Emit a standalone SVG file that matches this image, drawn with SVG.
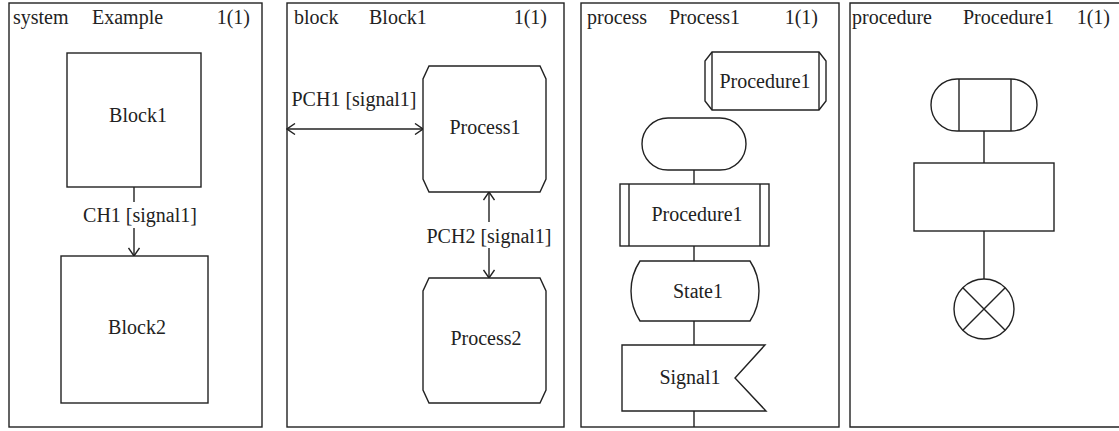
<svg xmlns="http://www.w3.org/2000/svg" width="1119" height="431" viewBox="0 0 1119 431">
<style>
  .f{fill:none;stroke:#222;stroke-width:1.4}
  .s{fill:#fff;stroke:#222;stroke-width:1.4}
  .l{fill:none;stroke:#222;stroke-width:1.4}
  .t{font-family:'Liberation Serif','DejaVu Serif','Noto Serif',serif;font-size:20px;fill:#222}
  .c{text-anchor:middle}
  .e{text-anchor:end}
</style>
<defs>
  <marker id="arr" viewBox="0 0 10 12" refX="9" refY="6" markerWidth="10" markerHeight="12" markerUnits="userSpaceOnUse" orient="auto-start-reverse">
    <path d="M1,0.5 L9,6 L1,11.5" fill="none" stroke="#222" stroke-width="1.4"/>
  </marker>
</defs>
<rect width="1119" height="431" fill="#fff"/>
<g class="t">

<g id="frame-system">
  <rect class="f" x="9" y="3" width="253" height="424"/>
  <text x="13" y="24">system</text>
  <text x="92" y="24">Example</text>
  <text class="e" x="250" y="24">1(1)</text>
</g>
<g id="frame-block">
  <rect class="f" x="287" y="3" width="277" height="424"/>
  <text x="294" y="24">block</text>
  <text x="369" y="24">Block1</text>
  <text class="e" x="547" y="24">1(1)</text>
</g>
<g id="frame-process">
  <rect class="f" x="581" y="3" width="258" height="424"/>
  <text x="587" y="24">process</text>
  <text x="669" y="24">Process1</text>
  <text class="e" x="818" y="24">1(1)</text>
</g>
<g id="frame-procedure">
  <path class="f" d="M1125,3 L850,3 L850,427 L1125,427"/>
  <text x="852" y="24">procedure</text>
  <text x="963" y="24">Procedure1</text>
  <text class="e" x="1110" y="24">1(1)</text>
</g>

<g id="connectors">
  <path class="l" d="M134,187 V202"/>
  <path class="l" d="M134,228 V256" marker-end="url(#arr)"/>
  <text class="c" x="140" y="222">CH1 [signal1]</text>
  <path class="l" d="M287,129 H423" marker-start="url(#arr)" marker-end="url(#arr)"/>
  <text class="c" x="354" y="106">PCH1 [signal1]</text>
  <path class="l" d="M489,192 V222" marker-start="url(#arr)"/>
  <path class="l" d="M489,248 V278" marker-end="url(#arr)"/>
  <text class="c" x="489" y="243">PCH2 [signal1]</text>
  <path class="l" d="M694,170 V184 M694,246 V261 M694,321 V345 M694,411 V427"/>
  <path class="l" d="M984,131 V163 M984,231 V279"/>
</g>

<g id="block1">
  <rect class="s" x="67" y="53" width="134" height="134"/>
  <text class="c" x="138" y="122">Block1</text>
</g>
<g id="block2">
  <rect class="s" x="61" y="256" width="147" height="147"/>
  <text class="c" x="137" y="334">Block2</text>
</g>

<g id="process1">
  <path class="s" d="M429,66 H540 L546,79 V179 L540,192 H429 L423,179 V79 Z"/>
  <text class="c" x="485" y="134">Process1</text>
</g>
<g id="process2">
  <path class="s" d="M429,278 H540 L546,291 V390 L540,403 H429 L423,390 V291 Z"/>
  <text class="c" x="486" y="345">Process2</text>
</g>

<g id="procedure-ref">
  <path class="s" d="M712,52 H819 L826,61 V101 L819,110 H712 L705,101 V61 Z"/>
  <path class="l" d="M712,52 V110 M819,52 V110"/>
  <text class="c" x="765" y="88">Procedure1</text>
</g>
<g id="start">
  <rect class="s" x="642" y="118" width="104" height="52" rx="26" ry="26"/>
</g>
<g id="procedure-call">
  <rect class="s" x="620" y="184" width="149" height="62"/>
  <path class="l" d="M629,184 V246 M760,184 V246"/>
  <text class="c" x="697" y="221">Procedure1</text>
</g>
<g id="state1">
  <path class="s" d="M640,261 H750 A54.5,54.5 0 0 1 750,321 H640 A54.5,54.5 0 0 1 640,261 Z"/>
  <text class="c" x="698" y="298">State1</text>
</g>
<g id="signal1">
  <path class="s" d="M622,345 H765 L735,378 L766,411 H622 Z"/>
  <text class="c" x="690" y="384">Signal1</text>
</g>

<g id="procedure-start">
  <rect class="s" x="931" y="79" width="106" height="52" rx="26" ry="26"/>
  <path class="l" d="M959,79 V131 M1011,79 V131"/>
</g>
<g id="task">
  <rect class="s" x="914" y="163" width="140" height="68"/>
</g>
<g id="return">
  <circle class="s" cx="984" cy="309" r="30"/>
  <path class="l" d="M962.8,287.8 L1005.2,330.2 M1005.2,287.8 L962.8,330.2"/>
</g>
</g>
</svg>
